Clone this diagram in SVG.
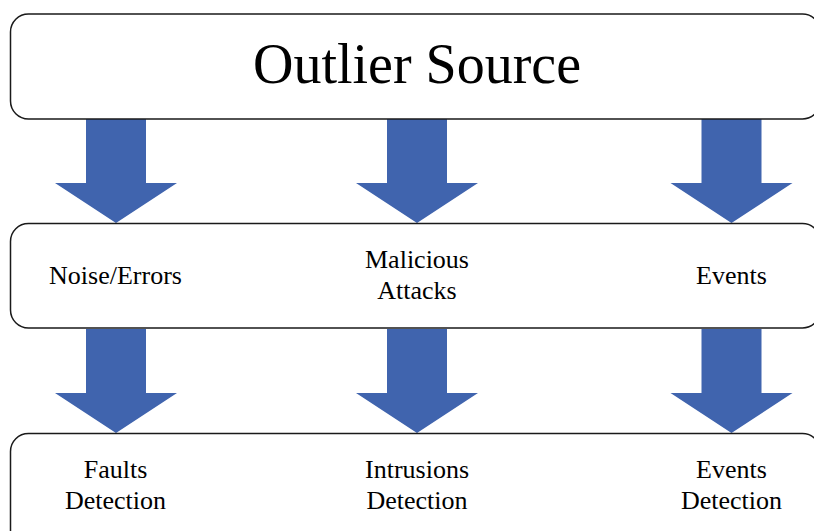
<svg xmlns="http://www.w3.org/2000/svg" width="814" height="531" viewBox="0 0 814 531">
  <style>
    .box { fill: #ffffff; stroke: #1a1a1a; stroke-width: 1.5; }
    .arrow { fill: #4064AE; }
    .t { font-family: "Liberation Serif", "Times New Roman", serif; fill: #000000; text-anchor: middle; }
    .big { font-size: 56px; }
    .sm { font-size: 26px; }
  </style>
  <defs>
    <path id="blk" d="M -30 0 H 30 V 64 H 61 L 0 104 L -61 64 H -30 Z"/>
  </defs>
  <rect width="814" height="531" fill="#ffffff"/>
  <g id="connectors">
    <use href="#blk" class="arrow" x="116" y="119"/>
    <use href="#blk" class="arrow" x="417" y="119"/>
    <use href="#blk" class="arrow" x="731.5" y="119"/>
    <use href="#blk" class="arrow" x="116" y="329"/>
    <use href="#blk" class="arrow" x="417" y="329"/>
    <use href="#blk" class="arrow" x="731.5" y="329"/>
  </g>
  <g id="source">
    <rect class="box" x="10.5" y="14" width="810" height="105" rx="18" ry="18"/>
    <text class="t big" x="417" y="83">Outlier Source</text>
  </g>
  <g id="types">
    <rect class="box" x="10.5" y="223.5" width="810" height="104.5" rx="18" ry="18"/>
    <text class="t sm" x="115.5" y="284">Noise/Errors</text>
    <text class="t sm" x="417" y="267.5">Malicious</text>
    <text class="t sm" x="417" y="299">Attacks</text>
    <text class="t sm" x="731.5" y="284">Events</text>
  </g>
  <g id="detection">
    <rect class="box" x="10.5" y="433.5" width="810" height="120" rx="18" ry="18"/>
    <text class="t sm" x="115.5" y="478">Faults</text>
    <text class="t sm" x="115.5" y="509">Detection</text>
    <text class="t sm" x="417" y="478">Intrusions</text>
    <text class="t sm" x="417" y="509">Detection</text>
    <text class="t sm" x="731.5" y="478">Events</text>
    <text class="t sm" x="731.5" y="509">Detection</text>
  </g>
</svg>
